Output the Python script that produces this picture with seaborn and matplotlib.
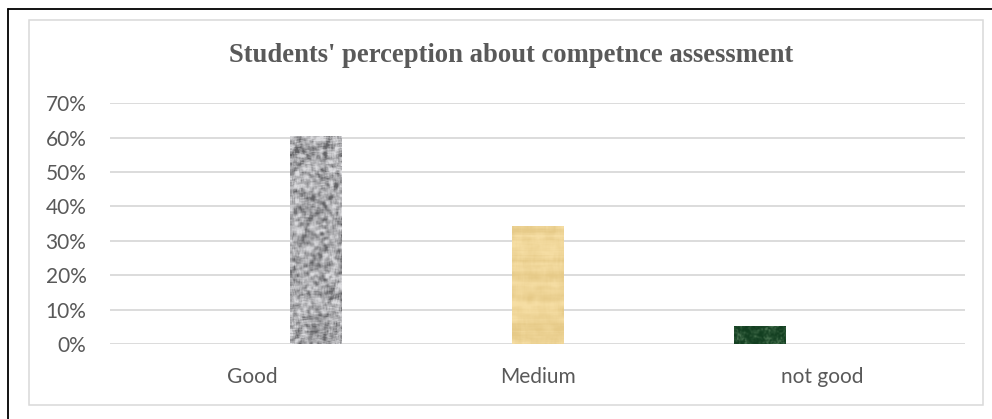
import numpy as np
import pandas as pd
import matplotlib
matplotlib.use("Agg")
import matplotlib.pyplot as plt
from matplotlib.lines import Line2D
from matplotlib.patches import Rectangle
import seaborn as sns

# Survey results
categories = ["Good", "Medium", "not good"]
shares = [0.605, 0.342, 0.053]
# each answer sits in its own series slot inside the cluster
series_order = ["not good", "Medium", "Good"]
y_ticks = [0.0, 0.1, 0.2, 0.3, 0.4, 0.5, 0.6, 0.7]
y_tick_labels = ["0%", "10%", "20%", "30%", "40%", "50%", "60%", "70%"]
title = "Students' perception about competnce assessment"

TEXT = "#595959"
GRID = "#d9d9d9"

sns.set_theme(style="white")
plt.rcParams["font.family"] = ["Lato", "DejaVu Sans"]

W, H = 992, 419
fig = plt.figure(figsize=(W / 100, H / 100), dpi=100)
fig.patch.set_facecolor("white")


def fx(px):
    return px / W


def fy(py):
    return 1 - py / H


ax = fig.add_axes([fx(110), fy(344), fx(965) - fx(110), fy(103.3) - fy(344)])

df = pd.DataFrame({"level": categories, "share": shares})
sns.barplot(data=df, x="level", y="share", hue="level",
            order=categories, hue_order=series_order,
            dodge=True, width=0.663, gap=0.19, legend=False,
            errorbar=None, ax=ax, zorder=2)

ax.set_xlim(-0.5, 2.5)
ax.set_ylim(0, 0.7)
ax.set_yticks(y_ticks)
ax.set_yticklabels(y_tick_labels)
ax.set_xlabel("")
ax.set_ylabel("")
ax.set_axisbelow(True)
ax.grid(axis="y", color=GRID, linewidth=1.3)
ax.grid(axis="x", visible=False)
for s in ax.spines.values():
    s.set_visible(False)
ax.tick_params(axis="y", length=0, pad=17, labelsize=15, labelcolor=TEXT)
ax.tick_params(axis="x", length=0, pad=16.5, labelsize=15, labelcolor=TEXT)
ax.set_facecolor("none")


# ---- textured fills for the bars ----
rng = np.random.default_rng(7)


def smooth(a, k):
    kern = np.ones(k) / k
    p = k
    b = np.pad(a, p, mode="reflect")
    b = np.apply_along_axis(lambda r: np.convolve(r, kern, mode="same"), 0, b)
    b = np.apply_along_axis(lambda r: np.convolve(r, kern, mode="same"), 1, b)
    return b[p:-p, p:-p]


def norm(a):
    lo, hi = np.percentile(a, 2), np.percentile(a, 98)
    return np.clip((a - lo) / (hi - lo), 0, 1)


def granite(h, w):
    v = norm(smooth(rng.normal(size=(h, w)), 4) + 0.7 * smooth(rng.normal(size=(h, w)), 9))
    g = 100 + 120 * v ** 0.8
    img = np.stack([g, g, g + 3], axis=-1) / 255
    return np.clip(img, 0, 1)


def parchment(h, w):
    rows = smooth(rng.normal(size=(h, 1)).repeat(w, axis=1), 4)
    blocks = smooth(rng.normal(size=(h, w)), 8)
    v = norm(0.4 * rows + blocks) - 0.5
    base = np.array([238, 212, 150], dtype=float)
    img = base[None, None, :] + v[..., None] * np.array([16, 20, 28])[None, None, :]
    return np.clip(img / 255, 0, 1)


def marble(h, w):
    v = norm(smooth(rng.normal(size=(h, w)), 5) + 0.5 * smooth(rng.normal(size=(h, w)), 2))
    dark = np.array([18, 62, 32], dtype=float)
    light = np.array([70, 112, 78], dtype=float)
    img = dark + (v[..., None] ** 2.2) * (light - dark)
    return np.clip(img / 255, 0, 1)


makers = {"Good": granite, "Medium": parchment, "not good": marble}

for patch in list(ax.patches):
    x0, y0 = patch.get_x(), patch.get_y()
    pw, ph = patch.get_width(), patch.get_height()
    if ph <= 0:
        continue
    cat = categories[int(round(x0 + pw / 2))]
    bb = patch.get_window_extent(renderer=fig.canvas.get_renderer())
    hp, wp = max(int(bb.height), 4), max(int(bb.width), 4)
    tex = makers[cat](hp, wp)
    im = ax.imshow(tex, extent=(x0, x0 + pw, y0, y0 + ph), aspect="auto",
                   origin="upper", interpolation="bilinear", zorder=2.5)
    im.set_clip_path(patch)
    patch.set_edgecolor("none")

ax.set_xlim(-0.5, 2.5)
ax.set_ylim(0, 0.7)

# ---- title ----
fig.text(fx(511), fy(56), title, ha="center", va="center",
         fontsize=19.2, fontweight="bold", color=TEXT,
         family=["Liberation Serif", "DejaVu Serif"])

# ---- chart frame and page border ----
fig.add_artist(Rectangle((fx(29), fy(405)), fx(983) - fx(29), fy(20) - fy(405),
                         transform=fig.transFigure, fill=False,
                         edgecolor=GRID, linewidth=1.1))
fig.add_artist(Line2D([fx(8), 1.0], [fy(9), fy(9)], transform=fig.transFigure,
                      color="black", linewidth=1.3))
fig.add_artist(Line2D([fx(8), fx(8)], [fy(9), 0.0], transform=fig.transFigure,
                      color="black", linewidth=1.3))

fig.savefig("out.png", dpi=100, facecolor="white")
